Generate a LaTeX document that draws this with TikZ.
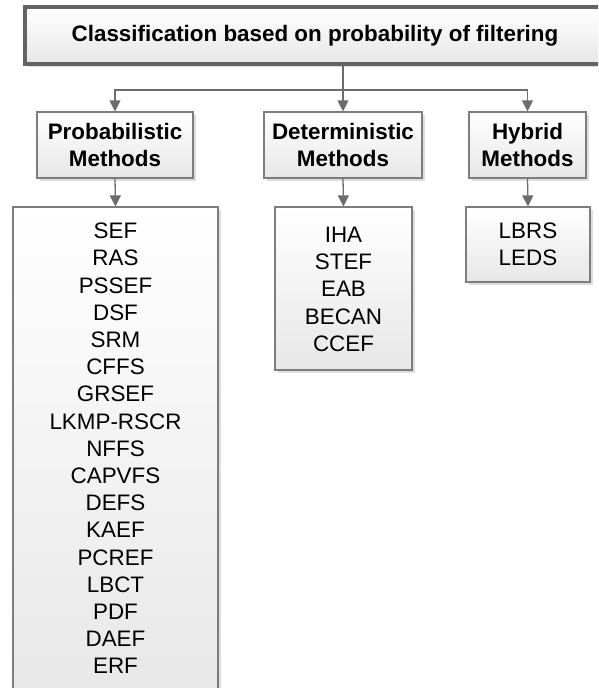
\documentclass[tikz,border=0pt]{standalone}
\usepackage{fontspec}
\setmainfont{Liberation Sans}
\usetikzlibrary{arrows.meta,shadows}

\definecolor{edgegray}{RGB}{125,125,125}
\definecolor{framegray}{RGB}{100,100,100}
\definecolor{arrowgray}{RGB}{108,108,108}
\definecolor{fillbot}{RGB}{231,231,231}

\tikzset{
  basebox/.style={top color=white, bottom color=fillbot,
    drop shadow={shadow xshift=2.5pt, shadow yshift=-2.5pt, fill=black, opacity=0.13},
    inner sep=0pt},
  titlebox/.style={basebox, draw=framegray, line width=3.2pt,
    font=\fontsize{22.4}{26}\selectfont\bfseries},
  headbox/.style={basebox, draw=edgegray, line width=1.2pt, align=center,
    font=\fontsize{22.4}{27}\selectfont\bfseries},
  listbox/.style={basebox, draw=edgegray, line width=1.2pt},
  listtext/.style={align=center, inner sep=0pt, anchor=north,
    font=\fontsize{22.4}{27.2}\selectfont},
  conn/.style={draw=arrowgray, line width=1.3pt},
  arr/.style={conn, -{Triangle[length=11pt,width=11pt]}}
}

\begin{document}
\begin{tikzpicture}[x=1pt,y=-1pt]
  \useasboundingbox (0,0) rectangle (598,688);
  \clip (0,0) rectangle (598,688);

  % root
  \node[titlebox, minimum width=580pt, minimum height=57pt] (root) at (315,35.5)
    {Classification based on probability of filtering};

  % method groups
  \node[headbox, minimum width=156pt, minimum height=66pt] (phead) at (115,145)
    {Probabilistic\\Methods};
  \node[headbox, minimum width=158pt, minimum height=66pt] (dhead) at (343,145)
    {Deterministic\\Methods};
  \node[headbox, minimum width=117pt, minimum height=66pt] (hhead) at (527.5,145)
    {Hybrid\\Methods};

  % scheme lists
  \node[listbox, minimum width=205pt, minimum height=500pt] (plist) at (115.5,457) {};
  \node[listbox, minimum width=137pt, minimum height=163pt] (dlist) at (343.5,288.5) {};
  \node[listbox, minimum width=124pt, minimum height=75pt] (hlist) at (528,244.5) {};

  \node[listtext] (pitems) at ([yshift=-16.5pt]plist.north)
    {SEF\\RAS\\PSSEF\\DSF\\SRM\\CFFS\\GRSEF\\LKMP-RSCR\\NFFS\\CAPVFS\\DEFS\\KAEF\\PCREF\\LBCT\\PDF\\DAEF\\ERF};
  \node[listtext] (ditems) at ([yshift=-20.5pt]dlist.north)
    {IHA\\STEF\\EAB\\BECAN\\CCEF};
  \node[listtext] (hitems) at ([yshift=-16.5pt]hlist.north)
    {LBRS\\LEDS};

  % connectors
  \coordinate (split) at (343,90);
  \draw[conn] (root.south -| dhead.north) -- (split);
  \draw[arr] (split) -| (phead.north);
  \draw[arr] (split) -- (dhead.north);
  \draw[arr] (split) -| (hhead.north);

  \draw[arr] (phead.south) -- (plist.north);
  \draw[arr] (dhead.south) -- (dlist.north);
  \draw[arr] (hhead.south) -- (hlist.north);
\end{tikzpicture}
\end{document}
